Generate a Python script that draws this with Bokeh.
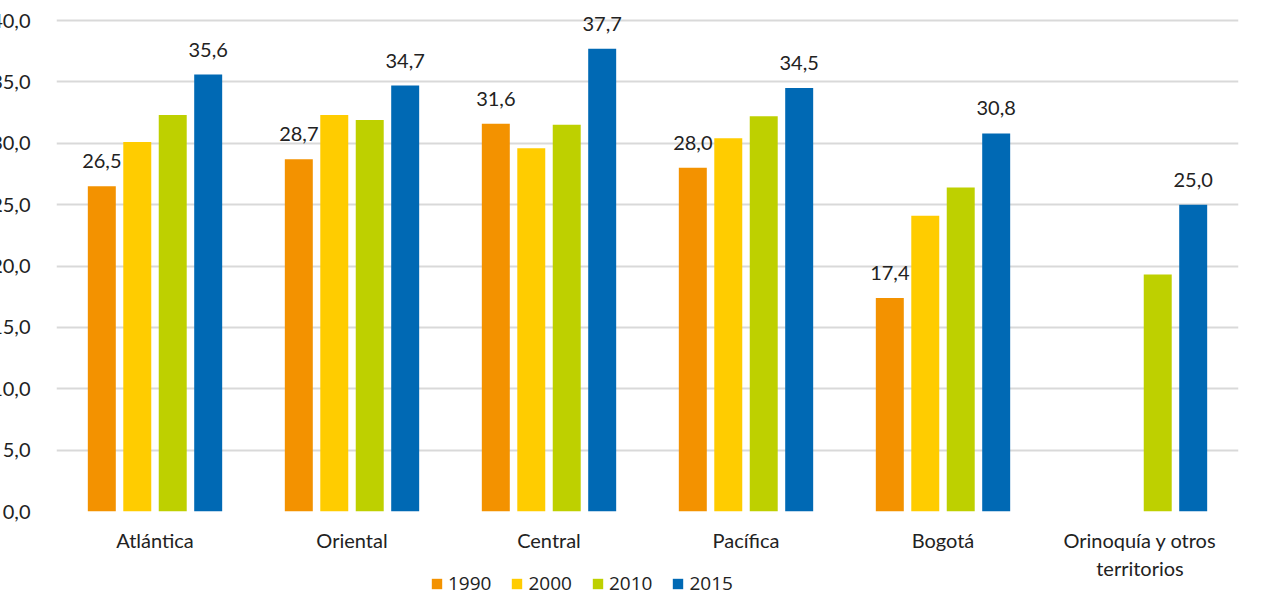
import math
from bokeh.plotting import figure
from bokeh.layouts import column
from bokeh.models import ColumnDataSource, Legend, LegendItem, FixedTicker, CustomJSTickFormatter
from bokeh.transform import dodge
from bokeh.core.properties import value
from bokeh.embed import file_html
from bokeh.resources import INLINE

categories = ["Atlántica", "Oriental", "Central", "Pacífica", "Bogotá", "Orinoquía y otros\nterritorios"]
years = ["1990", "2000", "2010", "2015"]
v1990 = [26.5, 28.7, 31.6, 28.0, 17.4, float("nan")]
v2000 = [30.1, 32.3, 29.6, 30.4, 24.1, float("nan")]
v2010 = [32.3, 31.9, 31.5, 32.2, 26.4, 19.3]
v2015 = [35.6, 34.7, 37.7, 34.5, 30.8, 25.0]
y_ticks = [0, 5, 10, 15, 20, 25, 30, 35, 40]
colors = ["#F39200", "#FFCC00", "#BED000", "#0069B4"]

FONT = "Lato"
W = 1295

def fmt(v):
    return "" if (v is None or (isinstance(v, float) and math.isnan(v))) else ("%.1f" % v).replace(".", ",")

src = ColumnDataSource(dict(
    cat=categories,
    y1990=v1990, y2000=v2000, y2010=v2010, y2015=v2015,
    l1990=[fmt(v) for v in v1990], l2015=[fmt(v) for v in v2015],
))

p = figure(x_range=categories, y_range=(0, 40.98), width=W, height=583,
           output_backend="svg", toolbar_location=None,
           min_border_top=8, min_border_right=45, min_border_bottom=55, min_border_left=0,
           border_fill_alpha=0, background_fill_alpha=0)

offsets = [-0.27, -0.09, 0.09, 0.27]
for yr, off, col in zip(years, offsets, colors):
    p.vbar(x=dodge("cat", off, range=p.x_range), top="y" + yr, width=0.142,
           source=src, fill_color=col, line_color=None)

for yr, off in (("1990", -0.27), ("2015", 0.27)):
    p.text(x=dodge("cat", off, range=p.x_range), y="y" + yr, text="l" + yr, source=src,
           text_align="center", text_baseline="bottom", y_offset=-18,
           text_font=value(FONT), text_font_size="20px", text_color="#222222")

p.yaxis.ticker = FixedTicker(ticks=y_ticks)
p.yaxis.formatter = CustomJSTickFormatter(code="return tick.toFixed(1).replace('.', ',');")
p.yaxis.axis_line_color = None
p.yaxis.major_tick_line_color = None
p.yaxis.minor_tick_line_color = None
p.yaxis.major_label_text_font = FONT
p.yaxis.major_label_text_font_size = "20px"
p.yaxis.major_label_text_color = "#222222"
p.yaxis.major_label_standoff = 20

p.xaxis.axis_line_color = None
p.xaxis.major_tick_line_color = None
p.xaxis.major_label_text_font = FONT
p.xaxis.major_label_text_font_size = "20px"
p.xaxis.major_label_text_color = "#222222"
p.xaxis.major_label_standoff = 10

p.xgrid.grid_line_color = None
p.ygrid.grid_line_color = "#d9d9d9"
p.ygrid.grid_line_width = 2
p.outline_line_color = None
p.x_range.range_padding = 0.0

# legend strip
lg = figure(width=W, height=26, x_range=(0, 1), y_range=(0, 1),
            output_backend="svg", toolbar_location=None,
            x_axis_type=None, y_axis_type=None,
            min_border_top=0, min_border_bottom=0, min_border_left=0, min_border_right=0,
            border_fill_alpha=0, background_fill_alpha=0, margin=(-13, 0, 0, 0))
lg.grid.visible = False
lg.outline_line_color = None
dummy = []
nan = float("nan")
for col in colors:
    dummy.append(lg.vbar(x=[nan], top=[nan], width=0.1, fill_color=col, line_color=None))
legend = Legend(items=[LegendItem(label=yr, renderers=[r]) for yr, r in zip(years, dummy)],
                orientation="horizontal", location=(374, 0),
                glyph_width=13, glyph_height=13, label_standoff=5, spacing=19,
                label_text_font="Open Sans", label_text_font_size="19px", label_text_color="#222222",
                border_line_color=None, background_fill_alpha=0, padding=0, margin=0)
lg.add_layout(legend, "center")

layout = column(p, lg, spacing=0, margin=(0, 0, 0, -12))
open("out.html", "w").write(file_html(layout, INLINE))
